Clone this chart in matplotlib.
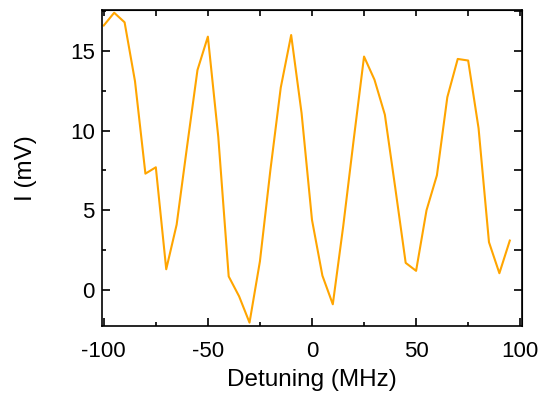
# Detuning scan of the signal I versus laser detuning
import matplotlib.pyplot as plt
import numpy as np

plt.rcParams['font.family'] = ['Liberation Sans', 'DejaVu Sans']
plt.rcParams['axes.unicode_minus'] = False

detuning = [-100, -95, -90, -85, -80, -75, -70, -65, -60, -55,
            -50, -45, -40, -35, -30, -25, -20, -15, -10, -5,
            0, 5, 10, 15, 20, 25, 30, 35, 40, 45,
            50, 55, 60, 65, 70, 75, 80, 85, 90, 95]
signal = [16.6, 17.4, 16.8, 13.1, 7.3, 7.7, 1.3, 4.1, 9.0, 13.8,
          15.9, 9.6, 0.85, -0.4, -2.05, 1.8, 7.5, 12.7, 16.0, 11.1,
          4.4, 0.9, -0.9, 4.0, 9.4, 14.65, 13.2, 11.0, 6.4, 1.7,
          1.2, 5.0, 7.2, 12.1, 14.5, 14.4, 10.15, 3.0, 1.05, 3.1]

fig = plt.figure(figsize=(5.4, 3.98), dpi=100)
ax = fig.add_axes([0.1883, 0.181, 0.7789, 0.795])
ax.plot(detuning, signal, color='#FFA500', linewidth=1.5)

ax.set_xlim(-101, 101)
ax.set_ylim(-2.26, 17.6)
ax.set_xticks([-100, -50, 0, 50, 100])
ax.set_xticks([-75, -25, 25, 75], minor=True)
ax.set_yticks([0, 5, 10, 15])
ax.set_yticks([2.5, 7.5, 12.5, 17.5], minor=True)
ax.tick_params(which='both', direction='in', width=1.2, labelsize=16, colors='black')
ax.tick_params(which='major', length=6)
ax.tick_params(which='minor', length=3)
ax.tick_params(axis='x', pad=11)
ax.tick_params(axis='y', pad=5)

# top and right: unlabelled ticks
top = ax.secondary_xaxis('top')
top.set_xticks(np.arange(-100, 101, 25))
top.tick_params(direction='in', length=4.5, width=1.2, labeltop=False)
right = ax.secondary_yaxis('right')
right.set_yticks(np.arange(0, 17.6, 2.5))
right.tick_params(direction='in', length=6, width=1.2, labelright=False)

for s in ax.spines.values():
    s.set_linewidth(1.2)

ax.set_xlabel('Detuning (MHz)', fontsize=17.5, labelpad=5)
ax.set_ylabel('I (mV)', fontsize=17.5, labelpad=24)

fig.savefig('out.png', dpi=100)
